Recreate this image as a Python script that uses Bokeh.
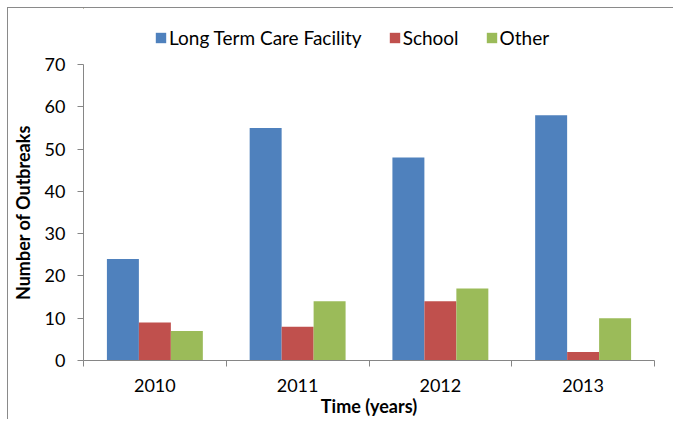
from bokeh.plotting import figure
from bokeh.models import ColumnDataSource, FixedTicker, Legend, LegendItem, Spacer
from bokeh.layouts import column, row
from bokeh.transform import dodge
from bokeh.embed import file_html
from bokeh.resources import INLINE

# ---- data ----
years = ["2010", "2011", "2012", "2013"]
long_term_care = [24, 55, 48, 58]
school = [9, 8, 14, 2]
other = [7, 14, 17, 10]
series_names = ["Long Term Care Facility", "School", "Other"]
series_colors = ["#4F81BD", "#C0504D", "#9BBB59"]
y_ticks = [0, 10, 20, 30, 40, 50, 60, 70]
x_title = "Time (years)"
y_title = "Number of Outbreaks"

FONT = "Lato"
AXIS_COLOR = "#868686"
BORDER = "1px solid #8a8a8a"

x_pos = list(range(len(years)))
src = ColumnDataSource(dict(x=x_pos, ltc=long_term_care, school=school, other=other))
cols = ["ltc", "school", "other"]
bw = 0.224

# ---- legend strip (top of the chart box) ----
# swatch renderers use the real data but sit fully outside this strip's visible ranges
lfig = figure(width=666, height=42, x_range=(100, 101), y_range=(-2, -1),
              output_backend="svg", toolbar_location=None,
              min_border_left=0, min_border_right=0, min_border_top=0, min_border_bottom=0,
              outline_line_color=None,
              styles={"border-left": BORDER, "border-top": BORDER})
lfig.axis.visible = False
lfig.grid.visible = False
swatches = []
for col, color in zip(cols, series_colors):
    swatches.append(lfig.vbar(x="x", top=col, width=bw, source=src,
                              fill_color=color, line_color=None))
legend = Legend(
    items=[LegendItem(label=n, renderers=[r]) for n, r in zip(series_names, swatches)],
    orientation="horizontal", location=(71, 1),
    border_line_color=None, background_fill_alpha=0,
    padding=0, margin=0, spacing=26,
    glyph_width=13, glyph_height=13, label_standoff=2,
    label_text_font=FONT, label_text_font_size="19px", label_text_color="#000000",
)
lfig.add_layout(legend, "center")

# ---- main chart ----
p = figure(
    width=666, height=370,
    x_range=(-0.5, len(years) - 0.5), y_range=(0, 70),
    output_backend="svg", toolbar_location=None,
    min_border_left=75, min_border_right=20, min_border_top=15, min_border_bottom=57,
    outline_line_color=None,
    styles={"border-left": BORDER},
)

offsets = [-bw, 0.0, bw]
for col, off, color in zip(cols, offsets, series_colors):
    p.vbar(x=dodge("x", off, range=p.x_range), top=col, width=bw, source=src,
           fill_color=color, line_color=None)

p.xgrid.visible = False
p.ygrid.visible = False

# x axis
xa = p.xaxis[0]
xa.ticker = FixedTicker(ticks=x_pos, minor_ticks=[i - 0.5 for i in range(len(years) + 1)])
xa.major_label_overrides = {i: y for i, y in zip(x_pos, years)}
xa.major_tick_line_color = None
xa.major_tick_out = 0
xa.major_tick_in = 0
xa.minor_tick_line_color = AXIS_COLOR
xa.minor_tick_out = 6
xa.minor_tick_in = 0
xa.axis_line_color = AXIS_COLOR
xa.major_label_standoff = 12
xa.major_label_text_font = FONT
xa.major_label_text_font_size = "18px"
xa.major_label_text_color = "#000000"
xa.axis_label = x_title
xa.axis_label_text_font = FONT
xa.axis_label_text_font_size = "18px"
xa.axis_label_text_font_style = "bold"
xa.axis_label_text_color = "#000000"
xa.axis_label_standoff = 0

# y axis
ya = p.yaxis[0]
ya.ticker = FixedTicker(ticks=y_ticks)
ya.minor_tick_line_color = None
ya.major_tick_line_color = AXIS_COLOR
ya.major_tick_out = 6
ya.major_tick_in = 0
ya.axis_line_color = AXIS_COLOR
ya.major_label_standoff = 12
ya.major_label_text_font = FONT
ya.major_label_text_font_size = "18px"
ya.major_label_text_color = "#000000"
ya.axis_label = y_title
ya.axis_label_text_font = FONT
ya.axis_label_text_font_size = "18px"
ya.axis_label_text_font_style = "bold"
ya.axis_label_text_color = "#000000"
ya.axis_label_standoff = 8

layout = row(Spacer(width=7, height=420), column(Spacer(width=666, height=7), lfig, p))

open("out.html", "w").write(file_html(layout, INLINE))
